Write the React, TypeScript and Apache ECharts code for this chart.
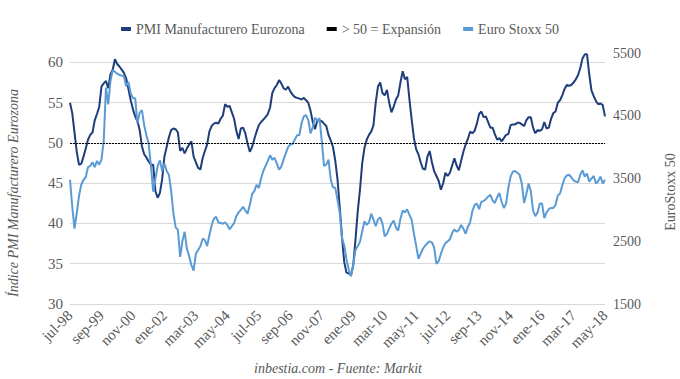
import React, { useEffect, useRef } from 'react';
import * as echarts from 'echarts';

// ---- categories (monthly, jul-98 .. may-18) ----
const MONTH_NAMES = ['ene', 'feb', 'mar', 'abr', 'may', 'jun', 'jul', 'ago', 'sep', 'oct', 'nov', 'dic'];
const START_YEAR = 1998;
const START_MONTH = 6; // julio

// ---- PMI Manufacturero Eurozona (left axis) ----
const pmi: number[] = [
  // 1998 jul-dic
  55.0, 53.7, 51.3, 48.9, 47.3, 47.4,
  // 1999
  48.3, 49.3, 50.4, 51.0, 51.3, 52.8, 53.6, 54.5, 57.0, 57.4, 57.7, 56.8,
  // 2000
  58.5, 59.1, 60.4, 59.8, 59.5, 59.1, 58.7, 58.0, 56.7, 55.3, 54.2, 53.3,
  // 2001
  52.7, 51.6, 49.6, 48.6, 48.2, 47.7, 47.3, 47.3, 44.0, 43.2, 43.8, 45.5,
  // 2002
  48.3, 49.5, 50.7, 51.6, 51.8, 51.7, 51.3, 49.0, 49.4, 48.7, 49.3, 49.8,
  // 2003
  50.2, 48.3, 47.6, 46.9, 46.7, 48.1, 49.0, 49.8, 51.4, 52.1, 52.4, 52.5,
  // 2004
  52.4, 53.0, 53.4, 54.8, 54.5, 54.6, 53.8, 53.0, 51.5, 50.5, 51.8, 51.9,
  // 2005
  51.2, 49.9, 48.9, 49.5, 50.5, 51.4, 52.2, 52.6, 52.9, 53.2, 53.6, 54.4,
  // 2006
  56.2, 56.8, 57.2, 57.8, 57.4, 56.8, 56.6, 57.0, 56.4, 56.0, 55.7, 55.6,
  // 2007
  55.5, 55.4, 55.6, 55.3, 55.0, 54.0, 52.6, 51.7, 52.8, 52.8, 52.7, 52.4,
  // 2008
  52.1, 51.0, 50.3, 49.5, 47.8, 45.5, 42.0, 38.3, 35.2, 33.9, 33.8, 33.6,
  // 2009
  34.8, 38.0, 41.5, 44.2, 47.5, 49.4, 50.4, 51.0, 51.4, 52.2, 55.0, 57.0,
  // 2010
  57.5, 56.2, 55.9, 56.6, 55.0, 53.8, 54.5, 55.4, 55.9, 57.5, 58.9, 57.9,
  // 2011
  58.2, 55.4, 52.9, 50.6, 49.2, 48.6, 47.6, 46.8, 46.7, 48.3, 49.0, 47.6,
  // 2012
  46.5, 45.9, 45.3, 44.2, 45.0, 46.3, 45.9, 46.3, 47.2, 48.1, 47.2, 46.6,
  // 2013
  47.8, 48.9, 49.8, 50.5, 51.4, 51.2, 51.5, 52.4, 53.6, 53.9, 53.2, 53.3,
  // 2014
  52.6, 51.9, 51.9, 51.1, 50.4, 50.6, 50.2, 50.6, 51.0, 51.1, 52.2, 52.3,
  // 2015
  52.3, 52.5, 52.5, 52.3, 52.1, 52.8, 53.2, 53.2, 51.9, 51.2, 51.6, 51.5,
  // 2016
  51.7, 52.6, 51.8, 51.9, 53.0, 53.7, 53.9, 55.0, 55.3, 55.9, 56.7, 57.2,
  // 2017
  57.1, 57.2, 57.5, 57.9, 58.4, 59.3, 60.5, 61.0, 61.0, 58.5, 56.5, 55.8,
  // 2018 ene-may
  55.2, 54.8, 54.9, 54.7, 53.3,
];

// ---- Euro Stoxx 50 (right axis) ----
const stoxx: number[] = [
  // 1998 jul-dic
  3480, 3050, 2700, 2950, 3220, 3400,
  // 1999
  3480, 3520, 3680, 3700, 3760, 3680, 3780, 3720, 3800, 4100, 4950, 4680,
  // 2000
  5050, 5230, 5200, 5170, 5150, 5140, 5130, 4970, 5040, 4860, 4780, 4780,
  // 2001
  4380, 4550, 4590, 4350, 4190, 4050, 3700, 3290, 3500, 3700, 3790, 3620,
  // 2002
  3740, 3620, 3560, 3300, 2950, 2720, 2680, 2250, 2500, 2650, 2380, 2260,
  // 2003
  2120, 2030, 2300, 2360, 2420, 2540, 2520, 2420, 2600, 2750, 2860, 2890,
  // 2004
  2800, 2790, 2780, 2800, 2760, 2690, 2740, 2790, 2900, 2960, 3000, 3050,
  // 2005
  2990, 2940, 3080, 3250, 3300, 3400, 3350, 3500, 3620, 3700, 3780, 3870,
  // 2006
  3800, 3830, 3740, 3640, 3690, 3800, 3900, 4000, 4040, 4050, 4120, 4190,
  // 2007
  4190, 4380, 4490, 4510, 4430, 4220, 4320, 4470, 4420, 4460, 4100, 3700,
  // 2008
  3720, 3800, 3480, 3360, 3350, 3160, 2950, 2550, 2430, 2210, 2050, 1940,
  // 2009
  2130, 2360, 2420, 2490, 2660, 2820, 2760, 2800, 2940, 2850, 2740, 2850,
  // 2010
  2880, 2780, 2580, 2620, 2700, 2780, 2830, 2720, 2670, 2860, 2990, 2960,
  // 2011
  3010, 2920, 2840, 2620, 2430, 2220, 2300, 2380, 2430, 2470, 2500, 2480,
  // 2012
  2400, 2140, 2180, 2300, 2400, 2470, 2500, 2530, 2630, 2690, 2650, 2680,
  // 2013
  2760, 2700, 2620, 2730, 2800, 2980, 3080, 3100, 3010, 3130, 3140, 3170,
  // 2014
  3210, 3240, 3150, 3110, 3200, 3270, 3130, 3030, 3100, 3350, 3530, 3610,
  // 2015
  3620, 3590, 3560, 3420, 3110, 3250, 3420, 3300, 2990, 2900, 2960, 3100,
  // 2016
  3100, 2870, 2960, 3010, 3030, 3030, 3080, 3230, 3260, 3390, 3500, 3550,
  // 2017
  3560, 3520, 3470, 3450, 3440, 3560, 3630, 3530, 3580, 3450, 3500, 3540,
  // 2018 ene-may
  3420, 3460, 3530, 3420, 3480,
];

const EXPANSION_LEVEL = 50;

const SERIES_NAMES = ['PMI Manufacturero Eurozona', '> 50 = Expansión', 'Euro Stoxx 50'];
const LEFT_AXIS_TITLE = 'Índice PMI Manufacturero Eurozona';
const RIGHT_AXIS_TITLE = 'EuroStoxx 50';
const FOOTER = 'inbestia.com - Fuente: Markit';

const LEFT_MIN = 30;
const LEFT_MAX = 61.17;
const LEFT_STEP = 5;
const RIGHT_MIN = 1500;
const RIGHT_MAX = 5500;
const RIGHT_STEP = 1000;
const LABEL_EVERY = 14; // months

const categories: string[] = pmi.map((_, i) => {
  const t = START_MONTH + i;
  const m = t % 12;
  const y = START_YEAR + Math.floor(t / 12);
  return `${MONTH_NAMES[m]}-${String(y % 100).padStart(2, '0')}`;
});

const FONT = 'Liberation Serif';
const GRAY = '#595959';
const DARK = '#1f3d7a';
const LIGHT = '#5b9bd5';

export default function App() {
  const ref = useRef<HTMLDivElement>(null);

  useEffect(() => {
    document.body.style.margin = '0';
    if (!ref.current) return;
    const chart = echarts.init(ref.current, undefined, { renderer: 'svg' });
    const labelStyle = { fontFamily: FONT, fontSize: 14, color: GRAY };
    chart.setOption({
      animation: false,
      backgroundColor: '#ffffff',
      textStyle: { fontFamily: FONT },
      grid: { left: 70, right: 75, top: 53, bottom: 75, containLabel: false },
      legend: {
        data: SERIES_NAMES,
        top: 17,
        left: 'center',
        icon: 'rect',
        itemWidth: 10,
        itemHeight: 4,
        itemGap: 22,
        textStyle: { fontFamily: FONT, fontSize: 14, color: GRAY },
      },
      xAxis: {
        type: 'category',
        data: categories,
        boundaryGap: false,
        axisLine: { show: true, lineStyle: { color: '#d9d9d9', width: 1 } },
        axisTick: { show: false },
        axisLabel: {
          ...labelStyle,
          fontSize: 15,
          interval: LABEL_EVERY - 1,
          rotate: 45,
          margin: 9,
        },
        splitLine: { show: false },
      },
      yAxis: [
        {
          type: 'value',
          min: LEFT_MIN,
          max: LEFT_MAX,
          interval: LEFT_STEP,
          axisLine: { show: false },
          axisTick: { show: false },
          axisLabel: {
            ...labelStyle,
            fontSize: 15,
            margin: 7,
            showMaxLabel: false,
            formatter: (v: number) => String(v),
          },
          splitLine: { show: true, showMaxLine: false, lineStyle: { color: '#d9d9d9', width: 1 } },
        },
        {
          type: 'value',
          min: RIGHT_MIN,
          max: RIGHT_MAX,
          interval: RIGHT_STEP,
          axisLine: { show: false },
          axisTick: { show: false },
          axisLabel: {
            ...labelStyle,
            margin: 8,
            formatter: (v: number) => String(v),
          },
          splitLine: { show: false },
        },
      ],
      series: [
        {
          name: SERIES_NAMES[0],
          type: 'line',
          yAxisIndex: 0,
          data: pmi,
          showSymbol: false,
          symbol: 'none',
          color: DARK,
          lineStyle: { color: DARK, width: 2 },
          z: 3,
        },
        {
          name: SERIES_NAMES[1],
          type: 'line',
          yAxisIndex: 0,
          data: [],
          symbol: 'none',
          color: '#000000',
          lineStyle: { color: '#000000', width: 1 },
          markLine: {
            silent: true,
            symbol: ['none', 'none'],
            label: { show: false },
            lineStyle: { color: '#000000', width: 1.2, type: [2, 1] },
            data: [{ yAxis: EXPANSION_LEVEL }],
          },
          z: 2,
        },
        {
          name: SERIES_NAMES[2],
          type: 'line',
          yAxisIndex: 1,
          data: stoxx,
          showSymbol: false,
          symbol: 'none',
          color: LIGHT,
          lineStyle: { color: LIGHT, width: 2 },
          z: 4,
        },
      ],
      graphic: [
        {
          type: 'text',
          x: 13,
          y: 193,
          rotation: Math.PI / 2,
          style: {
            text: LEFT_AXIS_TITLE,
            fontFamily: FONT,
            fontSize: 14,
            fontStyle: 'italic',
            fill: GRAY,
            align: 'center',
            verticalAlign: 'middle',
          },
        },
        {
          type: 'text',
          x: 670,
          y: 192,
          rotation: Math.PI / 2,
          style: {
            text: RIGHT_AXIS_TITLE,
            fontFamily: FONT,
            fontSize: 14,
            fill: GRAY,
            align: 'center',
            verticalAlign: 'middle',
          },
        },
        {
          type: 'text',
          x: 338,
          y: 368,
          style: {
            text: FOOTER,
            fontFamily: FONT,
            fontSize: 14,
            fontStyle: 'italic',
            fill: GRAY,
            align: 'center',
            verticalAlign: 'middle',
          },
        },
      ],
    });
    return () => chart.dispose();
  }, []);

  return <div ref={ref} style={{ width: 680, height: 379 }} />;
}
